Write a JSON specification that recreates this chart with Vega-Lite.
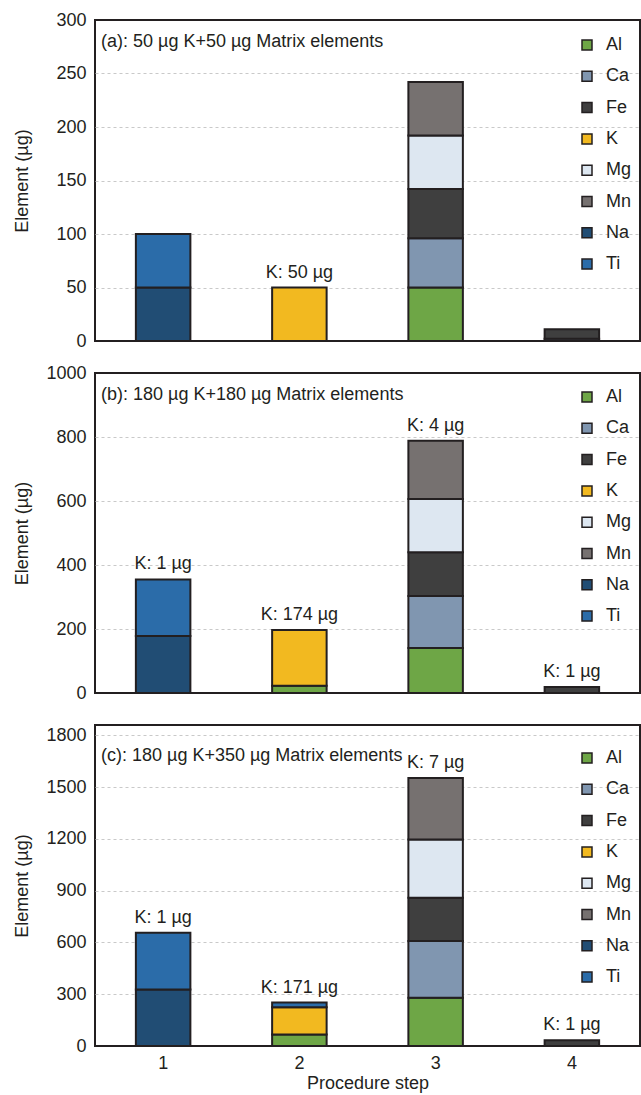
{
  "$schema": "https://vega.github.io/schema/vega-lite/v6.json",
  "padding": {"left": 12, "top": 10, "right": 0, "bottom": 0},
  "background": "white",
  "bounds": "flush",
  "spacing": 32,
  "datasets": {
    "bars": [
      {"panel": "a", "step": "1", "element": "Na", "value": 50},
      {"panel": "a", "step": "1", "element": "Ti", "value": 50},
      {"panel": "a", "step": "2", "element": "K", "value": 50},
      {"panel": "a", "step": "3", "element": "Al", "value": 50},
      {"panel": "a", "step": "3", "element": "Ca", "value": 46},
      {"panel": "a", "step": "3", "element": "Fe", "value": 46},
      {"panel": "a", "step": "3", "element": "Mg", "value": 50},
      {"panel": "a", "step": "3", "element": "Mn", "value": 50},
      {"panel": "a", "step": "4", "element": "Ca", "value": 2},
      {"panel": "a", "step": "4", "element": "Fe", "value": 9},
      {"panel": "b", "step": "1", "element": "Na", "value": 178},
      {"panel": "b", "step": "1", "element": "Ti", "value": 177},
      {"panel": "b", "step": "2", "element": "Al", "value": 23},
      {"panel": "b", "step": "2", "element": "K", "value": 174},
      {"panel": "b", "step": "3", "element": "Al", "value": 141},
      {"panel": "b", "step": "3", "element": "Ca", "value": 162},
      {"panel": "b", "step": "3", "element": "Fe", "value": 137},
      {"panel": "b", "step": "3", "element": "Mg", "value": 166},
      {"panel": "b", "step": "3", "element": "Mn", "value": 182},
      {"panel": "b", "step": "4", "element": "Fe", "value": 19},
      {"panel": "c", "step": "1", "element": "Na", "value": 328},
      {"panel": "c", "step": "1", "element": "Ti", "value": 328},
      {"panel": "c", "step": "2", "element": "Al", "value": 66},
      {"panel": "c", "step": "2", "element": "K", "value": 158},
      {"panel": "c", "step": "2", "element": "Ti", "value": 28},
      {"panel": "c", "step": "3", "element": "Al", "value": 280},
      {"panel": "c", "step": "3", "element": "Ca", "value": 328},
      {"panel": "c", "step": "3", "element": "Fe", "value": 251},
      {"panel": "c", "step": "3", "element": "Mg", "value": 338},
      {"panel": "c", "step": "3", "element": "Mn", "value": 356},
      {"panel": "c", "step": "4", "element": "Fe", "value": 33}
    ],
    "notes": [
      {"panel": "a", "step": "2", "total": 50, "note": "K: 50 µg"},
      {"panel": "b", "step": "1", "total": 355, "note": "K: 1 µg"},
      {"panel": "b", "step": "2", "total": 197, "note": "K: 174 µg"},
      {"panel": "b", "step": "3", "total": 788, "note": "K: 4 µg"},
      {"panel": "b", "step": "4", "total": 19, "note": "K: 1 µg"},
      {"panel": "c", "step": "1", "total": 656, "note": "K: 1 µg"},
      {"panel": "c", "step": "2", "total": 252, "note": "K: 171 µg"},
      {"panel": "c", "step": "3", "total": 1553, "note": "K: 7 µg"},
      {"panel": "c", "step": "4", "total": 33, "note": "K: 1 µg"}
    ]
  },
  "config": {
    "font": "Liberation Sans",
    "view": {"stroke": "#231f20", "strokeWidth": 2},
    "axis": {
      "labelFont": "Liberation Sans", "labelFontSize": 18, "labelColor": "#231f20",
      "titleFont": "Liberation Sans", "titleFontSize": 18, "titleFontWeight": "normal", "titleColor": "#231f20",
      "domain": false, "ticks": false,
      "gridDash": [3, 3], "gridWidth": 1
    },
    "legend": {
      "orient": "none", "padding": 0,
      "symbolType": "square", "symbolSize": 100,
      "symbolStrokeColor": "#231f20", "symbolStrokeWidth": 1.5, "symbolOpacity": 1,
      "labelFont": "Liberation Sans", "labelFontSize": 18, "labelColor": "#231f20",
      "labelOffset": 10, "rowPadding": 13.3
    },
    "title": {
      "font": "Liberation Sans", "fontSize": 18, "fontWeight": "normal", "color": "#231f20",
      "anchor": "start", "frame": "group", "baseline": "middle", "offset": -40, "dx": 6
    }
  },
  "resolve": {"scale": {"color": "independent", "y": "independent"}, "legend": {"color": "independent"}},
  "vconcat": [
    {
      "width": 545, "height": 321,
      "title": {"text": "(a): 50 µg K+50 µg Matrix elements"},
      "layer": [
        {
          "data": {"name": "bars"},
          "transform": [{"filter": "datum.panel === 'a'"}],
          "mark": {"type": "bar", "stroke": "#231f20", "strokeWidth": 2},
          "encoding": {
            "x": {"field": "step", "type": "nominal", "scale": {"domain": ["1", "2", "3", "4"], "paddingInner": 0.6, "paddingOuter": 0.3}, "axis": null},
            "y": {"field": "value", "type": "quantitative", "stack": "zero", "scale": {"domain": [0, 300], "nice": false}, "axis": {"title": "Element (µg)", "format": "d", "values": [0, 50, 100, 150, 200, 250, 300], "titleX": -73, "titleBaseline": "middle", "labelPadding": 9, "gridColor": {"condition": {"test": "datum.value === 0 || datum.value === 300", "value": "transparent"}, "value": "#c9c9c9"}}},
            "color": {"field": "element", "type": "nominal", "scale": {"domain": ["Al", "Ca", "Fe", "K", "Mg", "Mn", "Na", "Ti"], "range": ["#6ea646", "#8096b0", "#3f3f3f", "#f2b920", "#dde7f1", "#767170", "#214d74", "#2b6ca9"]}, "legend": {"title": null, "legendX": 483, "legendY": 16}},
            "order": {"field": "element", "sort": "ascending"}
          }
        },
        {
          "data": {"name": "notes"},
          "transform": [{"filter": "datum.panel === 'a'"}],
          "mark": {"type": "text", "baseline": "middle", "dy": -15, "fontSize": 18, "font": "Liberation Sans", "color": "#231f20"},
          "encoding": {
            "x": {"field": "step", "type": "nominal"},
            "y": {"field": "total", "type": "quantitative"},
            "text": {"field": "note"}
          }
        }
      ]
    },
    {
      "width": 545, "height": 320,
      "title": {"text": "(b): 180 µg K+180 µg Matrix elements"},
      "layer": [
        {
          "data": {"name": "bars"},
          "transform": [{"filter": "datum.panel === 'b'"}],
          "mark": {"type": "bar", "stroke": "#231f20", "strokeWidth": 2},
          "encoding": {
            "x": {"field": "step", "type": "nominal", "scale": {"domain": ["1", "2", "3", "4"], "paddingInner": 0.6, "paddingOuter": 0.3}, "axis": null},
            "y": {"field": "value", "type": "quantitative", "stack": "zero", "scale": {"domain": [0, 1000], "nice": false}, "axis": {"title": "Element (µg)", "format": "d", "values": [0, 200, 400, 600, 800, 1000], "titleX": -73, "titleBaseline": "middle", "labelPadding": 9, "gridColor": {"condition": {"test": "datum.value === 0 || datum.value === 1000", "value": "transparent"}, "value": "#c9c9c9"}}},
            "color": {"field": "element", "type": "nominal", "scale": {"domain": ["Al", "Ca", "Fe", "K", "Mg", "Mn", "Na", "Ti"], "range": ["#6ea646", "#8096b0", "#3f3f3f", "#f2b920", "#dde7f1", "#767170", "#214d74", "#2b6ca9"]}, "legend": {"title": null, "legendX": 483, "legendY": 15}},
            "order": {"field": "element", "sort": "ascending"}
          }
        },
        {
          "data": {"name": "notes"},
          "transform": [{"filter": "datum.panel === 'b'"}],
          "mark": {"type": "text", "baseline": "middle", "dy": -15, "fontSize": 18, "font": "Liberation Sans", "color": "#231f20"},
          "encoding": {
            "x": {"field": "step", "type": "nominal"},
            "y": {"field": "total", "type": "quantitative"},
            "text": {"field": "note"}
          }
        }
      ]
    },
    {
      "width": 545, "height": 321,
      "title": {"text": "(c): 180 µg K+350 µg Matrix elements"},
      "layer": [
        {
          "data": {"name": "bars"},
          "transform": [{"filter": "datum.panel === 'c'"}],
          "mark": {"type": "bar", "stroke": "#231f20", "strokeWidth": 2},
          "encoding": {
            "x": {"field": "step", "type": "nominal", "scale": {"domain": ["1", "2", "3", "4"], "paddingInner": 0.6, "paddingOuter": 0.3}, "axis": {"title": "Procedure step", "labelAngle": 0, "labelPadding": 8, "titlePadding": 2}},
            "y": {"field": "value", "type": "quantitative", "stack": "zero", "scale": {"domain": [0, 1860], "nice": false}, "axis": {"title": "Element (µg)", "format": "d", "values": [0, 300, 600, 900, 1200, 1500, 1800], "titleX": -73, "titleBaseline": "middle", "labelPadding": 9, "gridColor": {"condition": {"test": "datum.value === 0", "value": "transparent"}, "value": "#c9c9c9"}}},
            "color": {"field": "element", "type": "nominal", "scale": {"domain": ["Al", "Ca", "Fe", "K", "Mg", "Mn", "Na", "Ti"], "range": ["#6ea646", "#8096b0", "#3f3f3f", "#f2b920", "#dde7f1", "#767170", "#214d74", "#2b6ca9"]}, "legend": {"title": null, "legendX": 483, "legendY": 24}},
            "order": {"field": "element", "sort": "ascending"}
          }
        },
        {
          "data": {"name": "notes"},
          "transform": [{"filter": "datum.panel === 'c'"}],
          "mark": {"type": "text", "baseline": "middle", "dy": -15, "fontSize": 18, "font": "Liberation Sans", "color": "#231f20"},
          "encoding": {
            "x": {"field": "step", "type": "nominal"},
            "y": {"field": "total", "type": "quantitative"},
            "text": {"field": "note"}
          }
        }
      ]
    }
  ]
}
